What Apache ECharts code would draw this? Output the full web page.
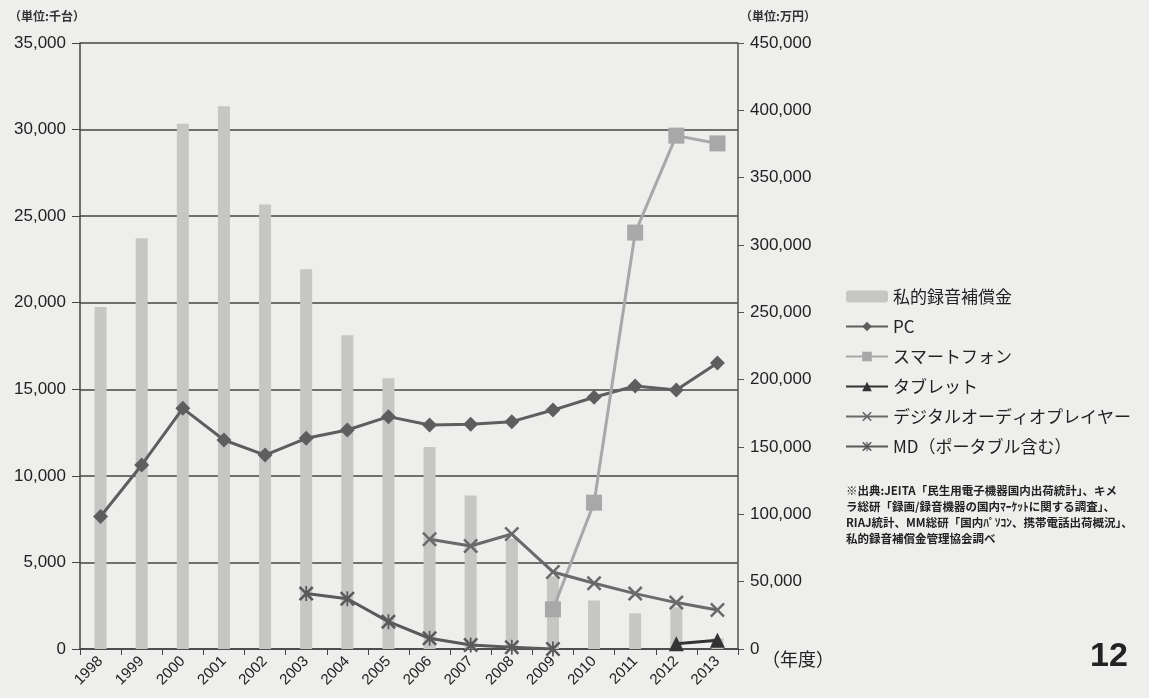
<!DOCTYPE html>
<html>
<head>
<meta charset="utf-8">
<script src="https://cdn.jsdelivr.net/npm/echarts@6/dist/echarts.min.js"></script>
<style>
  html, body { margin: 0; padding: 0; background: #eeeeec; }
  #main { width: 1149px; height: 698px; }
</style>
</head>
<body>
<div id="main"></div>
<script>
// 年度
const years = ["1998", "1999", "2000", "2001", "2002", "2003", "2004", "2005",
  "2006", "2007", "2008", "2009", "2010", "2011", "2012", "2013"];
// 私的録音補償金（万円, 右軸）
const hoshokin = [254000, 305000, 390000, 403000, 330000, 282000, 233000, 201000,
  150000, 114000, 82000, 54000, 36000, 26500, 31000, 8000];
// 出荷台数（千台, 左軸）
const pc = [7650, 10630, 13900, 12070, 11200, 12170, 12650, 13420,
  12940, 12980, 13130, 13800, 14540, 15190, 14960, 16520];
const smartphone = [null, null, null, null, null, null, null, null,
  null, null, null, 2290, 8450, 24050, 29650, 29200];
const tablet = [null, null, null, null, null, null, null, null,
  null, null, null, null, null, null, 300, 500];
const dap = [null, null, null, null, null, null, null, null,
  6340, 5950, 6640, 4450, 3800, 3200, 2680, 2250];
const md = [null, null, null, null, null, 3200, 2900, 1580,
  620, 230, 100, 0, null, null, null, null];

const FONT = '"Noto Sans CJK JP", "Noto Sans", sans-serif';
const NUM_FONT = '"Liberation Sans", Arial, sans-serif';
const xPath = "path://M0,1.2L1.2,0L5,3.8L8.8,0L10,1.2L6.2,5L10,8.8L8.8,10L5,6.2L1.2,10L0,8.8L3.8,5Z";
const starPath = "path://M0,1.2L1.2,0L5,3.8L8.8,0L10,1.2L6.2,5L10,8.8L8.8,10L5,6.2L1.2,10L0,8.8L3.8,5Z" +
  "M4.4,0L5.6,0L5.6,10L4.4,10Z";

function fmt(v) {
  return String(v).replace(/\B(?=(\d{3})+(?!\d))/g, ",");
}

let myChart = echarts.init(document.getElementById("main"));

function lineSeries(name, data, color, symbol, size) {
  return {
    name: name,
    type: "line",
    yAxisIndex: 0,
    data: data,
    symbol: symbol,
    symbolSize: size,
    connectNulls: false,
    lineStyle: { color: color, width: 3 },
    itemStyle: { color: color },
    z: 3,
  };
}

let option = {
  backgroundColor: "#eeeeec",
  animation: false,
  textStyle: { fontFamily: FONT },
  grid: { left: 80, right: 411, top: 43, bottom: 49 },
  legend: {
    orient: "vertical",
    left: 840,
    top: 283,
    itemWidth: 42,
    itemHeight: 12,
    itemGap: 13,
    textStyle: { fontSize: 17, color: "#222", fontFamily: FONT },
    data: ["私的録音補償金", "PC", "スマートフォン", "タブレット", "デジタルオーディオプレイヤー", "MD（ポータブル含む）"],
  },
  xAxis: {
    type: "category",
    data: years,
    axisLine: { lineStyle: { color: "#444", width: 1.5 } },
    axisTick: { show: true, length: 6, lineStyle: { color: "#444" } },
    axisLabel: { rotate: 45, fontSize: 15, color: "#222", margin: 10, fontFamily: NUM_FONT },
  },
  yAxis: [
    {
      type: "value",
      min: 0,
      max: 35000,
      interval: 5000,
      position: "left",
      axisLine: { show: true, lineStyle: { color: "#444", width: 1.5 } },
      axisTick: { show: true, length: 8, lineStyle: { color: "#444" } },
      axisLabel: { fontSize: 17, color: "#222", margin: 14, formatter: fmt, fontFamily: NUM_FONT },
      splitLine: { lineStyle: { color: "#444", width: 1.5 } },
    },
    {
      type: "value",
      min: 0,
      max: 450000,
      interval: 50000,
      position: "right",
      axisLine: { show: true, lineStyle: { color: "#555", width: 1.5 } },
      axisTick: { show: true, length: 6, lineStyle: { color: "#555" } },
      axisLabel: { fontSize: 17, color: "#222", margin: 12, formatter: fmt, fontFamily: NUM_FONT },
      splitLine: { show: false },
    },
  ],
  series: [
    {
      name: "私的録音補償金",
      type: "bar",
      yAxisIndex: 1,
      data: hoshokin,
      barWidth: 12,
      itemStyle: { color: "#c6c6c4" },
      z: 1,
    },
    lineSeries("PC", pc, "#5e5e5e", "diamond", 15),
    lineSeries("スマートフォン", smartphone, "#a8a8a8", "rect", 16),
    lineSeries("タブレット", tablet, "#333333", "triangle", 15),
    lineSeries("デジタルオーディオプレイヤー", dap, "#6a6a6a", xPath, 15),
    lineSeries("MD（ポータブル含む）", md, "#5a5a5a", starPath, 15),
  ],
  graphic: [
    {
      type: "text", left: 9, top: 10,
      style: { text: "（単位:千台）", fontSize: 12, fontWeight: "bold", fill: "#333", fontFamily: FONT },
    },
    {
      type: "text", left: 740, top: 10,
      style: { text: "（単位:万円）", fontSize: 12, fontWeight: "bold", fill: "#333", fontFamily: FONT },
    },
    {
      type: "text", left: 762, top: 650,
      style: { text: "（年度）", fontSize: 18, fill: "#222", fontFamily: FONT },
    },
    {
      type: "text", left: 1090, top: 640,
      style: { text: "12", fontSize: 34, fontWeight: "bold", fill: "#222", fontFamily: NUM_FONT },
    },
    {
      type: "text", left: 846, top: 483,
      style: {
        text: "※出典:JEITA「民生用電子機器国内出荷統計」、キメ\nラ総研「録画/録音機器の国内ﾏｰｹｯﾄに関する調査」、\nRIAJ統計、MM総研「国内ﾊﾟｿｺﾝ、携帯電話出荷概況」、\n私的録音補償金管理協会調べ",
        fontSize: 11.5, fontWeight: "bold", lineHeight: 16, fill: "#222", fontFamily: FONT,
      },
    },
  ],
};

myChart.setOption(option);
</script>
</body>
</html>
